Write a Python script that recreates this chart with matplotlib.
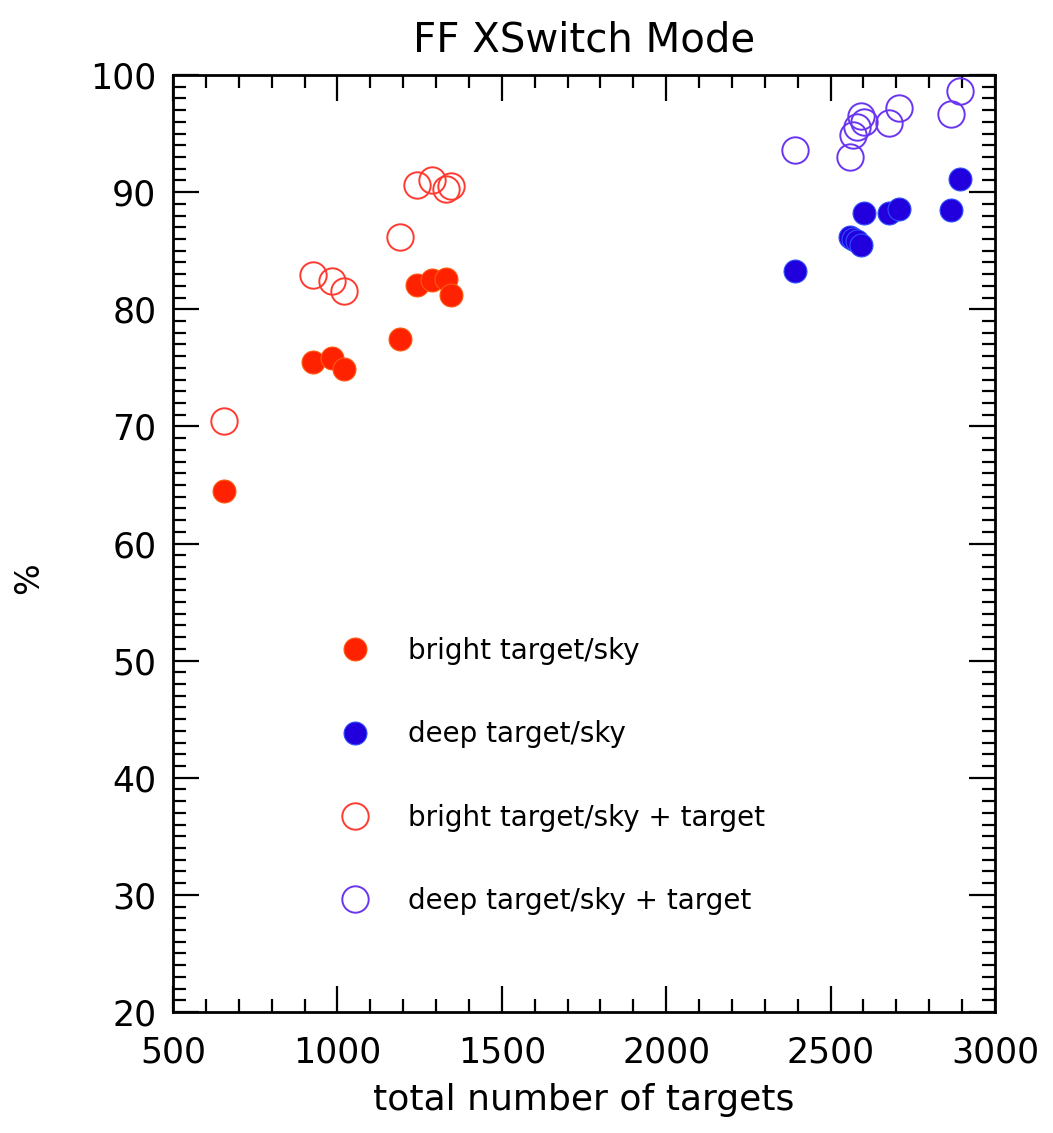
import matplotlib
matplotlib.use("Agg")
import matplotlib.pyplot as plt
from matplotlib.ticker import MultipleLocator

# ---- data ----
bright_x = [655, 925, 983, 1020, 1190, 1241, 1287, 1330, 1347]
bright_filled = [64.5, 75.5, 75.8, 74.9, 77.5, 82.1, 82.5, 82.6, 81.2]
bright_open = [70.5, 82.9, 82.4, 81.6, 86.2, 90.6, 91.0, 90.3, 90.5]

deep_x = [2391, 2560, 2569, 2581, 2594, 2601, 2677, 2709, 2865, 2895]
deep_filled = [83.3, 86.2, 86.0, 85.8, 85.5, 88.2, 88.2, 88.6, 88.5, 91.1]
deep_open = [93.6, 93.0, 94.9, 95.6, 96.5, 96.0, 95.9, 97.2, 96.7, 98.6]

labels = ["bright target/sky", "deep target/sky",
          "bright target/sky + target", "deep target/sky + target"]
title = "FF XSwitch Mode"
xlabel = "total number of targets"
ylabel = "%"

plt.rcParams['font.family'] = ['DejaVu Sans']

fig = plt.figure(figsize=(10.53, 11.33), dpi=100)
ax = fig.add_axes([0.1643, 0.1068, 0.7806, 0.8270])

red = "#ff2200"
blue = "#2200dd"
red_o = "#ff3a30"
purp_o = "#6a35f0"

ax.plot(bright_x, bright_filled, 'o', ls='none', ms=16.5, mfc=red, mec="#ff5a10", mew=0.8, label=labels[0])
ax.plot(deep_x, deep_filled, 'o', ls='none', ms=16.5, mfc=blue, mec="#3050ff", mew=0.8, label=labels[1])
ax.plot(bright_x, bright_open, 'o', ls='none', ms=19, mfc='none', mec=red_o, mew=1.4, label=labels[2])
ax.plot(deep_x, deep_open, 'o', ls='none', ms=19, mfc='none', mec=purp_o, mew=1.4, label=labels[3])

ax.set_xlim(500, 3000)
ax.set_ylim(20, 100)
ax.xaxis.set_major_locator(MultipleLocator(500))
ax.xaxis.set_minor_locator(MultipleLocator(100))
ax.yaxis.set_major_locator(MultipleLocator(10))
ax.yaxis.set_minor_locator(MultipleLocator(1))

ax.tick_params(which='both', direction='in', top=True, right=True, width=1.6, color='black')
ax.tick_params(which='major', length=19, labelsize=25)
ax.tick_params(axis='x', which='major', pad=17)
ax.tick_params(axis='y', which='major', pad=12)
ax.tick_params(which='minor', length=9.5)
for s in ax.spines.values():
    s.set_linewidth(2.0)

ax.set_title(title, fontsize=29, pad=17)
ax.set_xlabel(xlabel, fontsize=26, labelpad=10)
ax.set_ylabel(ylabel, fontsize=24)
ax.yaxis.set_label_coords(-0.155, 0.463)

leg = ax.legend(loc='upper left', bbox_to_anchor=(0.204, 0.400), frameon=False,
                fontsize=20, handlelength=1.0, handletextpad=1.41,
                labelspacing=1.99, borderpad=0, borderaxespad=0)

fig.savefig("out.png", dpi=100, facecolor='white')
